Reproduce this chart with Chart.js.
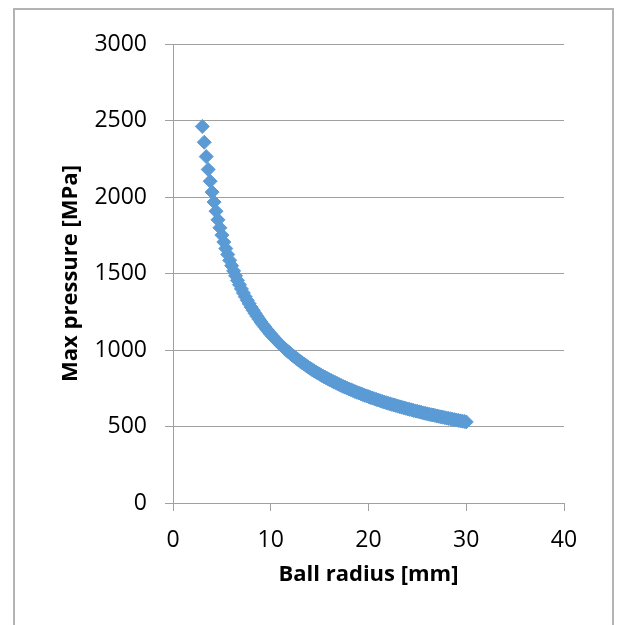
<!DOCTYPE html>
<html lang="en">
<head>
    <meta charset="UTF-8">
    <title>Max pressure vs ball radius</title>
    <script src="https://cdn.jsdelivr.net/npm/chart.js"></script>
    <style>
        * {
            padding: 0;
            margin: 0;
        }

        body {
            background-color: #FFFFFF;
            width: 620px;
            height: 625px;
            overflow: hidden;
            position: relative;
        }

        .moldura {
            position: absolute;
            left: 13px;
            top: 8px;
            width: 597px;
            height: 640px;
            border: 2px solid #b3b3b3;
            border-bottom: none;
        }

        #grafico {
            position: absolute;
            left: 0;
            top: 0;
        }
    </style>
</head>
<body>
    <div class="moldura"></div>
    <canvas id="grafico" width="620" height="625"></canvas>
    <script>
        // ball radius [mm]
        let raio = [
            3, 3.2, 3.4, 3.6, 3.8,
            4, 4.2, 4.4, 4.6, 4.8,
            5, 5.2, 5.4, 5.6, 5.8,
            6, 6.2, 6.4, 6.6, 6.8,
            7, 7.2, 7.4, 7.6, 7.8,
            8, 8.2, 8.4, 8.6, 8.8,
            9, 9.2, 9.4, 9.6, 9.8,
            10, 10.2, 10.4, 10.6, 10.8,
            11, 11.2, 11.4, 11.6, 11.8,
            12, 12.2, 12.4, 12.6, 12.8,
            13, 13.2, 13.4, 13.6, 13.8,
            14, 14.2, 14.4, 14.6, 14.8,
            15, 15.2, 15.4, 15.6, 15.8,
            16, 16.2, 16.4, 16.6, 16.8,
            17, 17.2, 17.4, 17.6, 17.8,
            18, 18.2, 18.4, 18.6, 18.8,
            19, 19.2, 19.4, 19.6, 19.8,
            20, 20.2, 20.4, 20.6, 20.8,
            21, 21.2, 21.4, 21.6, 21.8,
            22, 22.2, 22.4, 22.6, 22.8,
            23, 23.2, 23.4, 23.6, 23.8,
            24, 24.2, 24.4, 24.6, 24.8,
            25, 25.2, 25.4, 25.6, 25.8,
            26, 26.2, 26.4, 26.6, 26.8,
            27, 27.2, 27.4, 27.6, 27.8,
            28, 28.2, 28.4, 28.6, 28.8,
            29, 29.2, 29.4, 29.6, 29.8,
            30
        ];

        // max pressure [MPa]
        let pressao = [
            2461, 2358, 2264, 2180, 2103,
            2032, 1967, 1907, 1851, 1799,
            1751, 1706, 1663, 1624, 1586,
            1551, 1517, 1485, 1455, 1426,
            1399, 1373, 1348, 1325, 1302,
            1280, 1259, 1239, 1220, 1201,
            1183, 1166, 1150, 1134, 1118,
            1103, 1089, 1075, 1061, 1048,
            1035, 1023, 1011, 999, 988,
            977, 966, 956, 946, 936,
            926, 917, 908, 899, 890,
            881, 873, 865, 857, 849,
            842, 834, 827, 820, 813,
            806, 800, 793, 787, 781,
            774, 768, 762, 757, 751,
            745, 740, 735, 729, 724,
            719, 714, 709, 704, 700,
            695, 690, 686, 681, 677,
            673, 668, 664, 660, 656,
            652, 648, 644, 641, 637,
            633, 629, 626, 622, 619,
            615, 612, 609, 605, 602,
            599, 596, 593, 589, 586,
            583, 580, 577, 575, 572,
            569, 566, 563, 561, 558,
            555, 553, 550, 547, 545,
            542, 540, 537, 535, 533,
            530
        ];

        let tituloX = 'Ball radius [mm]';
        let tituloY = 'Max pressure [MPa]';

        let pontos = raio.map((r, i) => ({ x: r, y: pressao[i] }));

        Chart.defaults.font.family = "'Open Sans', 'Liberation Sans', sans-serif";
        Chart.defaults.color = '#000000';

        let ctx = document.getElementById('grafico').getContext('2d');
        let grafico = new Chart(ctx, {
            type: 'scatter',
            data: {
                datasets: [{
                    label: tituloY,
                    data: pontos,
                    showLine: false,
                    pointStyle: 'rectRot',
                    pointRadius: 7,
                    backgroundColor: '#5B9BD5',
                    borderColor: '#5B9BD5',
                    borderWidth: 1
                }]
            },
            options: {
                responsive: false,
                animation: false,
                layout: {
                    padding: { left: 58, top: 44, right: 56, bottom: 37 }
                },
                plugins: {
                    legend: { display: false },
                    tooltip: { enabled: false }
                },
                scales: {
                    x: {
                        type: 'linear',
                        min: 0,
                        max: 40,
                        ticks: {
                            stepSize: 10,
                            padding: 16,
                            font: { size: 23 },
                            callback: (valor) => String(valor)
                        },
                        grid: {
                            drawOnChartArea: false,
                            drawTicks: true,
                            tickLength: 8,
                            color: '#a0a0a0'
                        },
                        border: { display: true, color: '#a0a0a0' },
                        title: {
                            display: true,
                            text: tituloX,
                            padding: { top: 0, bottom: 0 },
                            font: { size: 22, weight: 'bold' }
                        },
                        afterFit: (escala) => { escala.height = 85; }
                    },
                    y: {
                        type: 'linear',
                        min: 0,
                        max: 3000,
                        ticks: {
                            stepSize: 500,
                            padding: 18,
                            font: { size: 23 },
                            callback: (valor) => String(valor)
                        },
                        grid: {
                            drawTicks: true,
                            tickLength: 8,
                            color: '#a0a0a0'
                        },
                        border: { display: true, color: '#a0a0a0' },
                        title: {
                            display: true,
                            text: tituloY,
                            padding: { top: 0, bottom: 0 },
                            font: { size: 22, weight: 'bold' }
                        },
                        afterFit: (escala) => { escala.width = 115; }
                    }
                }
            }
        });
    </script>
</body>
</html>
